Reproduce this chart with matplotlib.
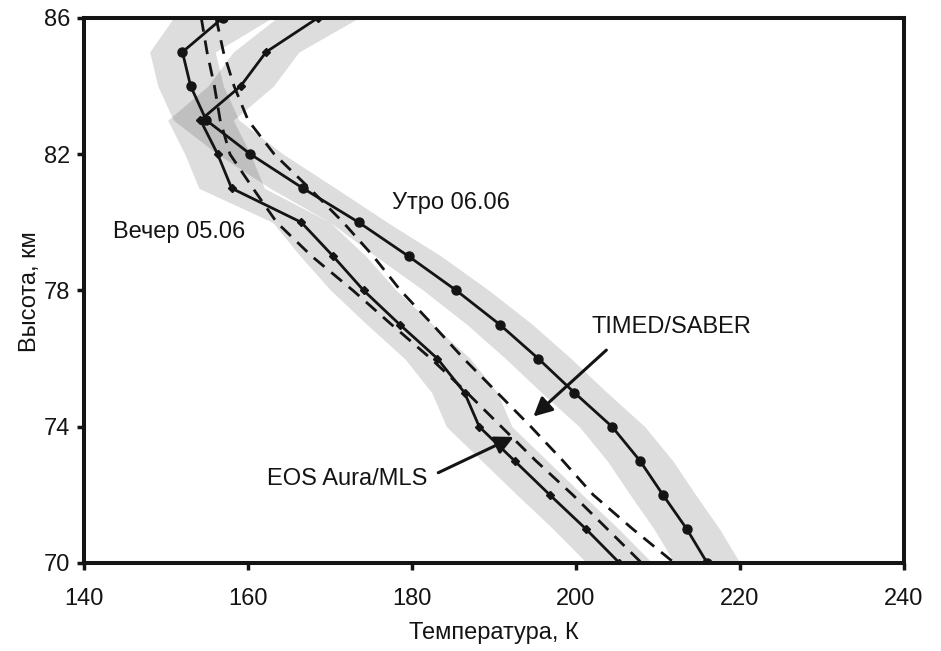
import matplotlib
matplotlib.use("Agg")
import matplotlib.pyplot as plt
import numpy as np

plt.rcParams["font.family"] = ["Liberation Sans", "DejaVu Sans"]

# heights, km (top to bottom)
height = [86, 85, 84, 83, 82, 81, 80, 79, 78, 77, 76, 75, 74, 73, 72, 71, 70]

# morning 06.06 profile (circles)
t_morning = [156.9, 152.0, 153.0, 154.9, 160.3, 166.7, 173.5, 179.6, 185.4,
             190.7, 195.4, 199.8, 204.4, 207.8, 210.6, 213.5, 216.0]
# evening 05.06 profile (small markers)
t_evening = [168.5, 162.2, 159.1, 154.2, 156.3, 158.0, 166.5, 170.4, 174.1,
             178.5, 183.1, 186.4, 188.2, 192.5, 196.8, 201.2, 205.3]
# EOS Aura/MLS
t_mls = [154.3, 155.0, 155.9, 156.6, 157.8, 160.6, 163.5, 167.8, 172.8,
         177.5, 182.3, 186.7, 190.9, 195.1, 199.6, 203.8, 208.0]
# TIMED/SABER
t_saber = [156.1, 157.0, 158.3, 160.0, 163.2, 167.5, 171.6, 175.3, 178.6,
           182.5, 186.3, 190.4, 194.5, 198.4, 202.1, 206.9, 212.0]
# uncertainty half-width, K
err_morning = [6.0, 4.0, 4.0, 4.0, 4.0, 4.0, 3.5, 4.0, 4.0,
               4.0, 4.0, 4.0, 4.0, 4.0, 4.0, 4.0, 4.0]
err_evening = [5.0, 4.0, 4.0, 4.0, 4.0, 4.0, 3.5, 4.0, 4.0,
               4.0, 4.0, 4.0, 4.0, 4.0, 4.0, 4.0, 4.0]

x_ticks = [140, 160, 180, 200, 220, 240]
y_ticks = [70, 74, 78, 82, 86]

h = np.array(height)
tm = np.array(t_morning)
te = np.array(t_evening)
ink = "#141414"

fig = plt.figure(figsize=(9.41, 6.51), dpi=100)
ax = fig.add_axes([0.0893, 0.1352, 0.8714, 0.8372])

# shaded error bands (overlap shows darker)
ax.fill_betweenx(h, te - np.array(err_evening), te + np.array(err_evening),
                 color="black", alpha=0.135, linewidth=0)
ax.fill_betweenx(h, tm - np.array(err_morning), tm + np.array(err_morning),
                 color="black", alpha=0.135, linewidth=0)

ax.plot(t_mls, height, color=ink, lw=2.0, dashes=(5, 3.2))
ax.plot(t_saber, height, color=ink, lw=2.0, dashes=(5, 3.2))
ax.plot(t_evening, height, color=ink, lw=2.0, marker="D", ms=3.8)
ax.plot(t_morning, height, color=ink, lw=2.0, marker="o", ms=6.5)

fs = 17
ax.text(184.7, 80.38, "Утро 06.06", fontsize=fs, ha="center", va="baseline", color=ink)
ax.text(151.6, 79.55, "Вечер 05.06", fontsize=fs, ha="center", va="baseline", color=ink)
ax.text(211.6, 76.74, "TIMED/SABER", fontsize=fs, ha="center", va="baseline", color=ink)
ax.text(172.1, 72.29, "EOS Aura/MLS", fontsize=fs, ha="center", va="baseline", color=ink)

arrow = dict(arrowstyle="-|>", color=ink, lw=2.2, mutation_scale=28, shrinkA=0, shrinkB=0)
ax.annotate("", xy=(194.8, 74.3), xytext=(203.7, 76.25), arrowprops=arrow)
ax.annotate("", xy=(192.4, 73.7), xytext=(183.2, 72.65), arrowprops=arrow)

ax.set_xlim(140, 240)
ax.set_ylim(70, 86)
ax.set_xticks(x_ticks)
ax.set_yticks(y_ticks)
ax.tick_params(direction="out", length=5, width=2.5, labelsize=17, color=ink, labelcolor=ink)
ax.tick_params(axis="x", pad=13)
ax.tick_params(axis="y", pad=5)
for s in ax.spines.values():
    s.set_linewidth(2.9)
    s.set_color(ink)
ax.set_xlabel("Температура, К", fontsize=17, color=ink)
ax.set_ylabel("Высота, км", fontsize=17, color=ink)
ax.xaxis.set_label_coords(0.5, -0.108)
ax.yaxis.set_label_coords(-0.052, 0.497)

fig.savefig("out.png", dpi=100)
